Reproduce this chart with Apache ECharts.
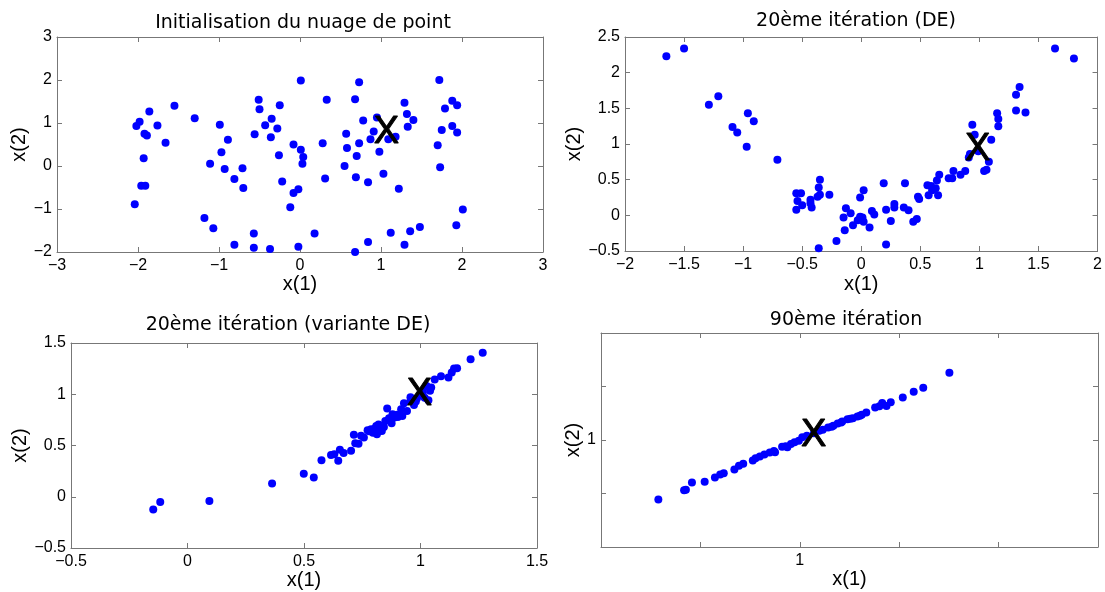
<!DOCTYPE html>
<html>
<head>
<meta charset="utf-8">
<script src="https://cdn.jsdelivr.net/npm/echarts@6/dist/echarts.min.js"></script>
<style>
html,body{margin:0;padding:0;background:#fff;}
#chart{width:1105px;height:592px;}
</style>
</head>
<body>
<div id="chart"></div>
<script>
// ---- Titles / labels ----
const titles = ['Initialisation du nuage de point', '20ème itération (DE)', '20ème itération (variante DE)', '90ème itération'];
const xName = 'x(1)';
const yName = 'x(2)';
const markText = 'X';

// ---- Panel 1 : initial cloud ----
const p1x = [-2.04,-2.02,-1.98,-1.86,-1.93,-1.96,-1.91,-1.92,-1.89,-1.76,-1.66,-1.55,-1.30,-1.18,-1.07,-1.11,-0.99,-0.97,-0.93,-0.89,-0.81,-0.71,-0.70,-0.81,-0.57,-0.57,-0.56,-0.51,-0.50,-0.43,-0.36,-0.35,-0.37,-0.28,-0.26,-0.25,-0.22,-0.12,-0.08,-0.08,-0.02,-0.02,0.01,0.04,0.03,0.01,0.18,0.28,0.31,0.33,0.55,0.57,0.58,0.68,0.69,0.70,0.68,0.73,0.73,0.78,0.84,0.84,0.87,0.91,0.95,0.98,1.03,1.09,1.18,1.12,1.22,1.29,1.32,1.33,1.40,1.29,1.36,1.48,1.70,1.72,1.73,1.75,1.79,1.88,1.94,1.88,1.94,1.93,2.01];
const p1y = [-0.89,0.93,1.03,1.27,0.18,-0.46,-0.46,0.75,0.71,0.94,0.54,1.40,1.11,-1.21,-1.45,0.05,0.96,0.32,-0.07,0.61,-0.30,-0.05,-0.51,-1.83,-1.57,-1.90,0.74,1.54,1.32,0.95,0.67,1.10,-1.93,0.87,0.25,1.41,-0.36,-0.96,0.50,-0.63,-0.54,-1.88,0.38,0.21,0.05,1.99,-1.57,0.53,-0.29,1.54,0.00,0.75,0.42,1.55,-0.26,0.23,-2.00,1.95,0.53,1.06,-0.38,-1.77,0.62,0.80,1.13,0.33,-0.18,0.62,0.68,-1.55,-0.53,1.47,1.21,0.91,1.07,-1.83,-1.52,-1.42,0.48,2.00,-0.03,0.84,1.34,1.52,1.41,0.93,0.78,-1.38,-1.01];

// ---- Panel 2 : 20th iteration (DE) ----
const p2x = [-1.65,-1.50,-1.29,-1.21,-1.09,-1.05,-0.96,-0.91,-0.97,-0.71,-0.55,-0.51,-0.54,-0.50,-0.55,-0.43,-0.43,-0.42,-0.36,-0.35,-0.35,-0.37,-0.27,-0.36,-0.21,-0.15,-0.13,-0.14,-0.09,-0.07,-0.03,-0.01,0.01,0.02,-0.01,0.02,0.07,0.09,0.11,0.19,0.21,0.21,0.25,0.28,0.28,0.36,0.37,0.40,0.44,0.47,0.48,0.49,0.56,0.57,0.59,0.60,0.63,0.64,0.65,0.66,0.74,0.77,0.78,0.84,0.88,0.91,0.92,0.94,0.96,0.99,1.04,1.06,1.08,1.10,1.15,1.16,1.16,1.31,1.31,1.34,1.39,1.64,1.80];
const p2y = [2.23,2.34,1.55,1.67,1.24,1.16,1.43,1.32,0.96,0.78,0.31,0.31,0.20,0.14,0.08,0.22,0.17,0.11,0.39,0.50,0.29,0.26,0.29,-0.46,-0.36,-0.03,0.10,-0.21,0.03,-0.14,-0.07,-0.02,-0.03,-0.09,0.25,0.35,-0.17,0.06,0.01,0.45,0.08,-0.41,-0.08,0.16,0.11,0.11,0.45,0.07,-0.09,-0.05,0.26,0.23,0.42,0.28,0.41,0.35,0.38,0.49,0.28,0.57,0.52,0.52,0.62,0.57,0.62,0.81,0.86,1.27,1.13,0.90,0.62,0.64,0.75,1.06,1.43,1.35,1.25,1.69,1.47,1.80,1.44,2.34,2.20];

// ---- Panel 3 : 20th iteration (DE variant) ----
const p3x = [-0.147,-0.117,0.094,0.363,0.499,0.542,0.575,0.616,0.630,0.647,0.654,0.670,0.702,0.714,0.720,0.734,0.745,0.757,0.773,0.788,0.803,0.813,0.820,0.834,0.843,0.849,0.857,0.865,0.876,0.888,0.903,0.917,0.922,0.929,0.957,0.972,1.000,1.018,1.034,1.041,1.061,1.088,1.120,1.134,1.144,1.157,1.215,1.267,1.026,1.046,0.942,0.880,0.826,0.796,0.957,0.985,1.010,0.980,0.900,0.810,0.780];
const p3y = [-0.124,-0.052,-0.042,0.130,0.225,0.189,0.355,0.407,0.414,0.352,0.459,0.427,0.450,0.606,0.521,0.518,0.596,0.577,0.648,0.658,0.664,0.609,0.704,0.642,0.681,0.739,0.860,0.765,0.717,0.772,0.779,0.853,0.788,0.912,0.971,0.896,1.000,0.967,0.941,1.033,1.143,1.176,1.163,1.212,1.251,1.254,1.342,1.404,1.081,1.065,0.837,0.805,0.651,0.625,0.935,0.960,1.020,0.930,0.800,0.690,0.640];

// ---- Panel 4 : 90th iteration ----
const p4x = [0.98577,0.98836,0.98854,0.98915,0.99043,0.99146,0.99199,0.99235,0.99342,0.99388,0.99431,0.99527,0.99598,0.99644,0.99698,0.99751,0.99822,0.99858,0.99911,0.99947,1.00025,1.00071,1.00142,1.00196,1.00285,1.00338,1.00381,1.00427,1.00480,1.00534,1.00580,1.00623,1.00669,1.00758,1.00801,1.00829,1.00872,1.00915,1.01036,1.01146,1.01242,1.01505,1.00231,1.00320,1.00416,1.00509,1.00605,0.99555,0.99740,0.99990,0.99875];
const p4y = [0.97214,0.97647,0.97678,0.98019,0.98050,0.98251,0.98390,0.98452,0.98622,0.98793,0.98885,0.99040,0.99226,0.99319,0.99412,0.99427,0.99690,0.99706,0.99814,0.99892,1.00124,1.00201,1.00310,1.00433,1.00588,1.00666,1.00774,1.00867,1.00975,1.01022,1.01099,1.01176,1.01285,1.01517,1.01579,1.01734,1.01594,1.01765,1.01981,1.02260,1.02446,1.03142,1.00480,1.00619,1.00820,1.00990,1.01130,0.99148,0.99489,0.99969,0.99659];

// ---- Position of the optimum marker "X" in each panel ----
const markX = [1.066, 0.985, 0.995, 1.0014];
const markY = [0.785, 0.925, 1.0, 1.002];

// ---- Axis ranges [min, max, interval] ----
const xRanges = [[-3,3,1],[-2,2,0.5],[-0.5,1.5,0.5],[0.98,1.03,0.01]];
const yRanges = [[-2,3,1],[-0.5,2.5,0.5],[-0.5,1.5,0.5],[0.95,1.05,0.025]];

const grids = [
  {left:57, top:37, width:486, height:215},
  {left:625, top:37, width:473, height:214},
  {left:71, top:343, width:466, height:205},
  {left:601, top:333, width:497, height:214}
];
const titlePos = [[298,9],[851,7],[283,311],[841,306]];
const yNameGap = [20, 38, 37, 14];
const xNameGap = [21, 23, 20, 21];

const AX = '#777';
const FONT = 'Liberation Sans, Arial, Helvetica, sans-serif';
function fmtNum(v){ return String(+v.toFixed(6)).replace('-', '\u2212'); }
function fmtOne(v){ return Math.abs(v-1) < 1e-9 ? '1' : ''; }

const xAxes = [], yAxes = [], series = [], title = [];
const pts = [[p1x,p1y],[p2x,p2y],[p3x,p3y],[p4x,p4y]];
for (let i=0;i<4;i++){
  const fmt = i===3 ? fmtOne : fmtNum;
  const [xmin,xmax,xint] = xRanges[i];
  const [ymin,ymax,yint] = yRanges[i];
  const common = {
    axisLine:{show:true,onZero:false,lineStyle:{color:AX,width:1}},
    axisTick:{show:true,inside:true,length:5,lineStyle:{color:AX}},
    splitLine:{show:false}
  };
  xAxes.push(Object.assign({type:'value',gridIndex:i,position:'bottom',min:xmin,max:xmax,interval:xint,
    axisLabel:{show:true,formatter:fmt,color:'#000',fontSize:16,fontFamily:FONT,margin:6,showMinLabel:true,showMaxLabel:true},
    name:xName,nameLocation:'middle',nameGap:xNameGap[i],nameTextStyle:{color:'#000',fontSize:20,fontFamily:FONT}},common));
  xAxes.push(Object.assign({type:'value',gridIndex:i,position:'top',min:xmin,max:xmax,interval:xint,
    axisLabel:{show:false}},common));
  yAxes.push(Object.assign({type:'value',gridIndex:i,position:'left',min:ymin,max:ymax,interval:yint,
    axisLabel:{show:true,formatter:fmt,color:'#000',fontSize:16,fontFamily:FONT,margin:5,showMinLabel:true,showMaxLabel:true},
    name:yName,nameLocation:'middle',nameRotate:90,nameGap:yNameGap[i],nameTextStyle:{color:'#000',fontSize:20,fontFamily:FONT}},common));
  yAxes.push(Object.assign({type:'value',gridIndex:i,position:'right',min:ymin,max:ymax,interval:yint,
    axisLabel:{show:false}},common));
  const data = pts[i][0].map((x,k)=>[x, pts[i][1][k]]);
  series.push({type:'scatter',xAxisIndex:2*i,yAxisIndex:2*i,data:data,symbol:'circle',symbolSize:8,
    itemStyle:{color:'#0000ff',opacity:1},silent:true,z:2});
  series.push({type:'scatter',xAxisIndex:2*i,yAxisIndex:2*i,data:[[markX[i],markY[i]]],symbol:'circle',symbolSize:0,
    itemStyle:{color:'#000000',opacity:1},silent:true,z:5,
    label:{show:true,position:'inside',formatter:markText,color:'#000000',opacity:1,fontSize:38,fontFamily:FONT,
      textBorderColor:'#000000',textBorderWidth:1}});
  title.push({text:titles[i],left:titlePos[i][0],top:titlePos[i][1],textAlign:'center',
    textStyle:{fontSize:19,fontWeight:'normal',color:'#000',fontFamily:'DejaVu Sans, sans-serif'}});
}

const chart = echarts.init(document.getElementById('chart'), null, {renderer:'canvas'});
chart.setOption({
  animation:false,
  backgroundColor:'#fff',
  title:title,
  grid:grids.map(g=>Object.assign({containLabel:false,show:false},g)),
  xAxis:xAxes,
  yAxis:yAxes,
  series:series
});
</script>
</body>
</html>
